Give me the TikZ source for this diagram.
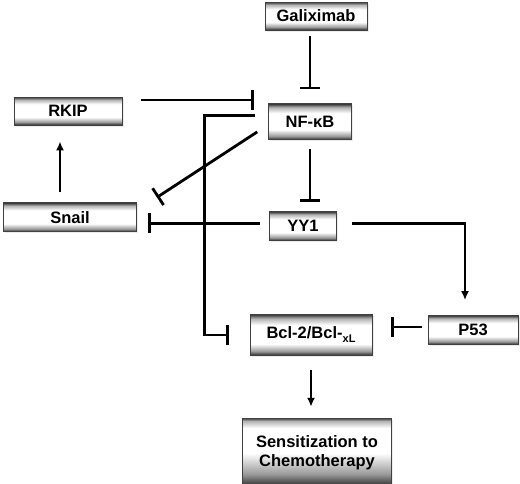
\documentclass[tikz,border=0pt]{standalone}
\usepackage{fontspec}
\setmainfont{Liberation Sans}
\usetikzlibrary{positioning, arrows.meta, shadows}

\pgfdeclareverticalshading{barrel}{100bp}{color(0bp)=(black!85); color(25bp)=(black!85); color(30bp)=(black!40); color(39bp)=(white); color(62bp)=(white); color(70bp)=(black!30); color(75bp)=(black!80); color(100bp)=(black!80)}
\pgfdeclareverticalshading{barreltall}{100bp}{color(0bp)=(black!90); color(25bp)=(black!90); color(35bp)=(black!40); color(50bp)=(white); color(68bp)=(white); color(73bp)=(black!30); color(75bp)=(black!75); color(100bp)=(black!75)}

\begin{document}
\begin{tikzpicture}[x=1pt, y=1pt,
	box/.style={draw=black!75, line width=0.8pt, shading=barrel, inner sep=0pt,
		font=\fontsize{16.5}{19}\selectfont\bfseries, align=center,
		drop shadow={opacity=0.15, shadow xshift=1.5pt, shadow yshift=-1.5pt}},
	inh/.style={line width=2.8pt, -{Bar[width=20pt, line width=2.8pt]}},
	act/.style={line width=2.8pt, -{Latex[length=9pt, width=8pt]}}]
	\useasboundingbox (0,0) rectangle (520,-483);

	\node[box, minimum width=102pt, minimum height=28pt] (gal) at (316,-16) {Galiximab};
	\node[box, minimum width=83pt, minimum height=36pt, below=73pt of gal, xshift=-6pt] (nfkb) {NF-κB};
	\node[box, minimum width=67pt, minimum height=29pt, below=71pt of nfkb, xshift=-7pt] (yy1) {YY1};
	\node[box, minimum width=122pt, minimum height=41pt, below=73pt of yy1, xshift=8pt] (bcl) {Bcl-2/Bcl-\raisebox{-4pt}{\fontsize{11}{11}\selectfont xL}};
	\node[box, shading=barreltall, minimum width=149pt, minimum height=70pt, below=62pt of bcl, xshift=6pt] (sens) {Sensitization to\\Chemotherapy};
	\node[box, minimum width=108pt, minimum height=28pt] (rkip) at (68,-111) {RKIP};
	\node[box, minimum width=133pt, minimum height=29pt, below=77pt of rkip, xshift=2pt] (snail) {Snail};
	\node[box, minimum width=90pt, minimum height=29pt] (p53) at (473,-330) {P53};

	\draw[inh, shorten <=6pt, shorten >=14pt] (gal.south -| nfkb.north) -- (nfkb.north);
	\draw[inh, shorten <=19pt, shorten >=14pt] ([yshift=11pt]rkip.east) -- ([yshift=11pt]rkip.east -| nfkb.west);
	\draw[inh, shorten <=9pt, shorten >=9pt] (nfkb.south) -- (nfkb.south |- yy1.north);
	\draw[inh, shorten <=13pt] ([yshift=-3pt]nfkb.west) -- ([xshift=20pt, yshift=5pt]snail.north east);
	\draw[inh, shorten <=13pt, shorten >=21pt] ([yshift=6pt]nfkb.west) -- ++(-63.5,0) |- (bcl.west);
	\draw[inh, shorten <=9pt, shorten >=11pt] ([yshift=3pt]yy1.west) -- ([yshift=3pt]yy1.west -| snail.east);
	\draw[act, shorten <=15pt, shorten >=15pt] ([yshift=3pt]yy1.east) -| ([xshift=-8pt]p53.north);
	\draw[inh, shorten <=6pt, shorten >=19pt] ([yshift=3pt]p53.west) -- ([yshift=3pt]p53.west -| bcl.east);
	\draw[act, shorten <=10pt, shorten >=16pt] ([xshift=-10pt]snail.north) -- ([xshift=-10pt]snail.north |- rkip.south);
	\draw[act, shorten <=14pt, shorten >=11pt] (bcl.south) -- (bcl.south |- sens.north);
\end{tikzpicture}
\end{document}
